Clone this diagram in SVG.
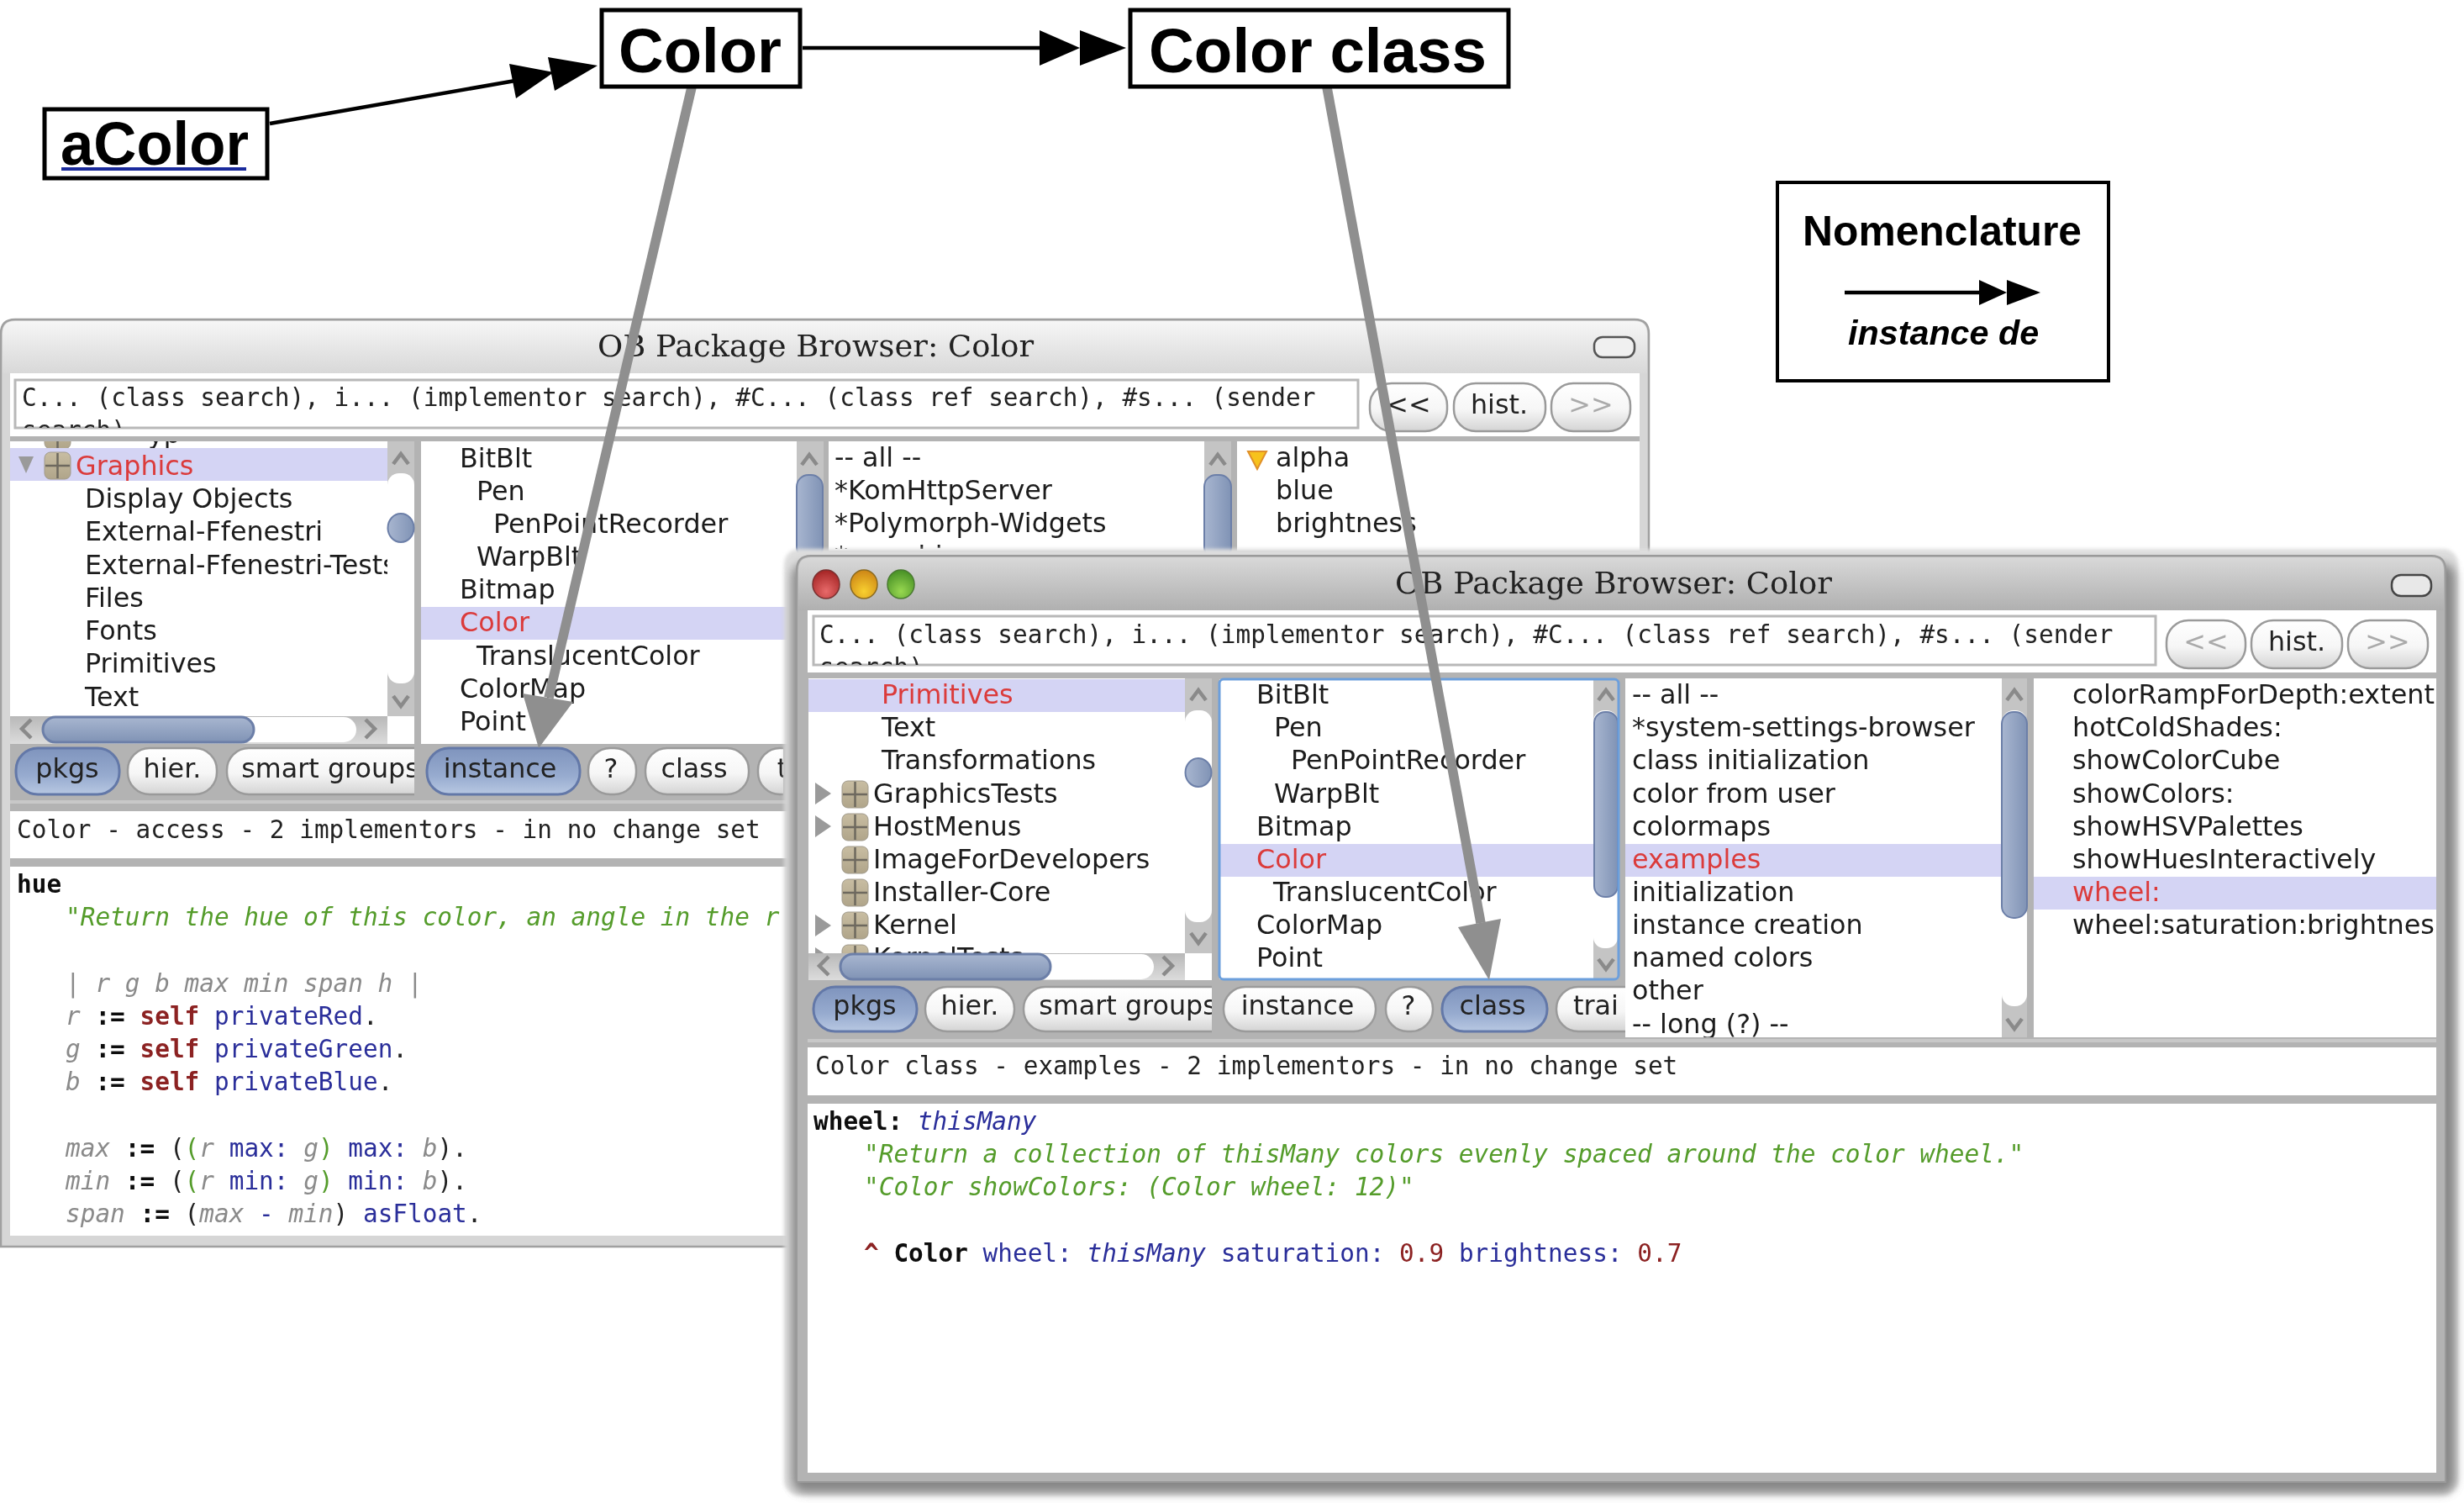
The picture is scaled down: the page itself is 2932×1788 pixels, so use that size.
<svg xmlns="http://www.w3.org/2000/svg" xmlns:xlink="http://www.w3.org/1999/xlink" width="2932" height="1788" viewBox="0 0 2932 1788">
<style>
text{white-space:pre}
.l{font:31.8px "DejaVu Sans",sans-serif;fill:#1c1c1c}
.sel{fill:#db3a3a}
.mono{font:29.4px "DejaVu Sans Mono",monospace;fill:#222}
.b{font-weight:bold;fill:#111}
.grn{fill:#549c2c;font-style:italic}
.v{fill:#8a8a8a;font-style:italic}
.blu{fill:#2b2f9a}
.dr{fill:#8c2222}
.drb{fill:#8c2222;font-weight:bold}
.bk{fill:#111;font-weight:bold}
.gp{fill:#549c2c}
.title{font:35.5px "DejaVu Serif",serif;fill:#222}
.big{font:bold 73px "Liberation Sans",Arial,sans-serif;fill:#000}
.box{fill:#fff;stroke:#000;stroke-width:5}
.band{fill:#d4d4f4}
.white{fill:#fff}
.gray{fill:#b3b3b3}
.track{fill:#fff}
.chev{fill:none;stroke:#8a8a8a;stroke-width:4.5}
.btn{fill:url(#btnG);stroke:#9a9a9a;stroke-width:2.5}
.btnOn{fill:url(#btnOnG);stroke:#6378a8;stroke-width:3}
.btxt{font:31.8px "DejaVu Sans",sans-serif;fill:#222;text-anchor:middle}
.dis{fill:#aaa}
.thumb{fill:url(#thumbG);stroke:#6c7fa8;stroke-width:2}
.hthumb{fill:url(#hthumbG);stroke:#6c7fa8;stroke-width:3}
.search{fill:#fff;stroke:#b8b8b8;stroke-width:3}
.tri{fill:#9a9a9a}
.ln{stroke:#000;stroke-width:4.5;fill:none}
.gl{stroke:#8f8f8f;stroke-width:11.5;fill:none}
</style>
<defs>
<linearGradient id="btnG" x1="0" y1="0" x2="0" y2="1"><stop offset="0" stop-color="#fff"/><stop offset=".55" stop-color="#f6f6f6"/><stop offset="1" stop-color="#d4d4d4"/></linearGradient>
<linearGradient id="btnOnG" x1="0" y1="0" x2="0" y2="1"><stop offset="0" stop-color="#7f94bd"/><stop offset=".6" stop-color="#97abcf"/><stop offset="1" stop-color="#b8c8e2"/></linearGradient>
<linearGradient id="thumbG" x1="0" y1="0" x2="1" y2="0"><stop offset="0" stop-color="#a8b6d0"/><stop offset="1" stop-color="#8093b5"/></linearGradient>
<linearGradient id="hthumbG" x1="0" y1="0" x2="0" y2="1"><stop offset="0" stop-color="#a8b6d0"/><stop offset="1" stop-color="#8093b5"/></linearGradient>
<linearGradient id="tbBack" x1="0" y1="0" x2="0" y2="1"><stop offset="0" stop-color="#f6f6f6"/><stop offset="1" stop-color="#d8d8d8"/></linearGradient>
<linearGradient id="tbFront" x1="0" y1="0" x2="0" y2="1"><stop offset="0" stop-color="#d8d8d8"/><stop offset="1" stop-color="#b0b0b0"/></linearGradient>
<linearGradient id="iconG" x1="0" y1="0" x2="0" y2="1"><stop offset="0" stop-color="#c8bda2"/><stop offset="1" stop-color="#b0a58a"/></linearGradient>
<linearGradient id="hbarG" x1="0" y1="0" x2="0" y2="1"><stop offset="0" stop-color="#b8b8b8"/><stop offset="1" stop-color="#dcdcdc"/></linearGradient>
<radialGradient id="rG" cx=".5" cy=".75" r=".7"><stop offset="0" stop-color="#e86a6a"/><stop offset="1" stop-color="#a82828"/></radialGradient>
<radialGradient id="yG" cx=".5" cy=".75" r=".7"><stop offset="0" stop-color="#f8d030"/><stop offset="1" stop-color="#d08a18"/></radialGradient>
<radialGradient id="gG" cx=".5" cy=".75" r=".7"><stop offset="0" stop-color="#98d850"/><stop offset="1" stop-color="#4c9428"/></radialGradient>
<filter id="sh" filterUnits="userSpaceOnUse" x="900" y="620" width="2032" height="1168"><feGaussianBlur stdDeviation="6"/></filter>
<filter id="sh2" filterUnits="userSpaceOnUse" x="900" y="620" width="2032" height="1168"><feGaussianBlur stdDeviation="2"/></filter>
<filter id="soft" filterUnits="userSpaceOnUse" x="0" y="0" width="2932" height="1788"><feGaussianBlur stdDeviation=".6"/></filter>
<g id="icon"><rect x="0" y="0" width="31" height="32" rx="7" fill="url(#iconG)" stroke="#a09a8c" stroke-width="1"/><path d="M15.5 1V31M1 16H30" stroke="#6e695e" stroke-width="2.5" fill="none"/></g>
<path id="up" class="chev" d="M-9 6L0 -6L9 6"/>
<path id="dn" class="chev" d="M-9 -6L0 6L9 -6"/>
<path id="lt" class="chev" d="M6 -11L-5 0L6 11"/>
<path id="rt" class="chev" d="M-6 -11L5 0L-6 11"/>
<path id="triR" class="tri" d="M0 -13L19 0L0 13Z"/>
<clipPath id="bP1"><rect x="12" y="525" width="449" height="327"/></clipPath>
<clipPath id="bSearch"><rect x="18" y="452" width="1598" height="57"/></clipPath>
<clipPath id="bRow"><rect x="12" y="885" width="481" height="65"/></clipPath>
<clipPath id="bRow2"><rect x="501" y="885" width="431" height="65"/></clipPath>
<clipPath id="bP3"><rect x="986" y="525" width="447" height="128"/></clipPath>
<clipPath id="bCode"><rect x="12" y="1031" width="920" height="440"/></clipPath>
<clipPath id="fP1"><rect x="962" y="807" width="448" height="327"/></clipPath>
<clipPath id="fSearch"><rect x="968" y="733" width="1597" height="58"/></clipPath>
<clipPath id="fRow"><rect x="962" y="1166" width="480" height="68"/></clipPath>
<clipPath id="fRow2"><rect x="1450" y="1166" width="484" height="68"/></clipPath>
<clipPath id="fP3"><rect x="1934" y="807" width="448" height="427"/></clipPath>
<clipPath id="fP4"><rect x="2420" y="807" width="479" height="427"/></clipPath>
</defs>
<rect width="2932" height="1788" fill="#fff"/>

<g id="browser-back" filter="url(#soft)">
<path d="M1 1483V397Q1 380 18 380H1945Q1962 380 1962 397V1483Z" fill="#d6d6d6" stroke="#a0a0a0" stroke-width="2.5"/>
<path d="M3 444V397Q3 382 18 382H1945Q1960 382 1960 397V444Z" fill="url(#tbBack)"/>
<text class="title" x="711" y="424" textLength="519" lengthAdjust="spacingAndGlyphs">OB Package Browser: Color</text>
<rect x="1897" y="401" width="48" height="24" rx="10" fill="#f0f0f0" stroke="#555" stroke-width="2.5"/>
<rect x="12" y="444" width="1939" height="76" class="white"/>
<rect x="12" y="519" width="1939" height="512" class="gray"/>
<rect x="18" y="452" width="1598" height="57" class="search"/>
<g clip-path="url(#bSearch)"><text class="mono" x="26" y="483">C... (class search), i... (implementor search), #C... (class ref search), #s... (sender</text><text class="mono" x="26" y="522">search)</text></g>
<rect x="1630" y="456" width="92" height="57" rx="26" class="btn"/><text class="btxt" x="1676" y="492">&lt;&lt;</text>
<rect x="1730" y="456" width="109" height="57" rx="26" class="btn"/><text class="btxt" x="1784" y="492">hist.</text>
<rect x="1846" y="456" width="94" height="57" rx="26" class="btn"/><text class="btxt dis" x="1893" y="492">&gt;&gt;</text>

<rect x="12" y="525" width="449" height="327" class="white"/>
<g clip-path="url(#bP1)">
<use href="#icon" x="53" y="502"/>
<text class="l" x="176" y="527">yp</text>
<rect x="12" y="533" width="449" height="39" class="band"/>
<path class="tri" d="M22 543H40L31 563Z"/>
<use href="#icon" x="53" y="538"/>
<text class="l sel" x="90" y="565">Graphics</text>
<text class="l" x="101" y="604">Display Objects</text>
<text class="l" x="101" y="643">External-Ffenestri</text>
<text class="l" x="101" y="683">External-Ffenestri-Tests</text>
<text class="l" x="101" y="722">Files</text>
<text class="l" x="101" y="761">Fonts</text>
<text class="l" x="101" y="800">Primitives</text>
<text class="l" x="101" y="840">Text</text>
</g>
<rect x="461" y="525" width="32" height="327" fill="#c4c4c4"/>
<rect x="461" y="563" width="32" height="250" rx="14" class="track"/>
<use href="#up" x="477" y="546"/><use href="#dn" x="477" y="834"/>
<ellipse cx="477" cy="628" rx="15.5" ry="17" class="thumb"/>
<rect x="461" y="852" width="32" height="33" class="white"/>
<rect x="12" y="852" width="449" height="33" fill="url(#hbarG)"/>
<rect x="51" y="853" width="373" height="30" rx="15" class="track"/>
<rect x="51" y="853" width="251" height="30" rx="15" class="hthumb"/>
<use href="#lt" x="31" y="867"/><use href="#rt" x="441" y="867"/>

<rect x="501" y="525" width="447" height="360" class="white"/>
<rect x="501" y="722" width="447" height="39" class="band"/>
<text class="l" x="547" y="556">BitBlt</text>
<text class="l" x="567" y="595">Pen</text>
<text class="l" x="587" y="634">PenPointRecorder</text>
<text class="l" x="567" y="673">WarpBlt</text>
<text class="l" x="547" y="712">Bitmap</text>
<text class="l sel" x="547" y="751">Color</text>
<text class="l" x="567" y="791">TranslucentColor</text>
<text class="l" x="547" y="830">ColorMap</text>
<text class="l" x="547" y="869">Point</text>

<rect x="948" y="525" width="32" height="130" fill="#c4c4c4"/>
<rect x="948" y="565" width="31" height="100" rx="14" class="thumb"/>
<use href="#up" x="963" y="547"/>
<rect x="986" y="525" width="447" height="130" class="white"/>
<g clip-path="url(#bP3)">
<text class="l" x="993" y="555">-- all --</text>
<text class="l" x="993" y="594">*KomHttpServer</text>
<text class="l" x="993" y="633">*Polymorph-Widgets</text>
<text class="l" x="993" y="672">*morphic</text>
</g>
<rect x="1433" y="525" width="32" height="130" fill="#c4c4c4"/>
<rect x="1433" y="565" width="32" height="100" rx="14" class="thumb"/>
<use href="#up" x="1449" y="547"/>
<rect x="1472" y="525" width="479" height="130" class="white"/>
<path d="M1485 537H1507L1496 558Z" fill="#f7c21e" stroke="#e0902a" stroke-width="2"/>
<text class="l" x="1518" y="555">alpha</text>
<text class="l" x="1518" y="594">blue</text>
<text class="l" x="1518" y="633">brightness</text>

<g clip-path="url(#bRow)">
<rect x="19" y="890" width="123" height="55" rx="26" class="btnOn"/><text class="btxt" x="80" y="925">pkgs</text>
<rect x="152" y="890" width="106" height="55" rx="26" class="btn"/><text class="btxt" x="205" y="925">hier.</text>
<rect x="270" y="890" width="260" height="55" rx="26" class="btn"/><text class="btxt" x="393" y="925">smart groups</text>
</g>
<g clip-path="url(#bRow2)">
<rect x="508" y="890" width="182" height="55" rx="26" class="btnOn"/><text class="btxt" x="595" y="925">instance</text>
<rect x="700" y="890" width="57" height="55" rx="26" class="btn"/><text class="btxt" x="727" y="925">?</text>
<rect x="768" y="890" width="123" height="55" rx="26" class="btn"/><text class="btxt" x="826" y="925">class</text>
<rect x="902" y="890" width="100" height="55" rx="26" class="btn"/><text class="btxt" x="931" y="925">t</text>
</g>
<rect x="12" y="952" width="930" height="4" fill="#c8c8c8"/>
<rect x="12" y="965" width="930" height="56" class="white"/>
<text class="mono" x="20" y="997">Color - access - 2 implementors - in no change set</text>
<rect x="12" y="1031" width="930" height="439" class="white"/>
<g clip-path="url(#bCode)">
<text class="mono" y="1062" x="20"><tspan class="b">hue</tspan></text>
<text class="mono" y="1101" x="78"><tspan class="grn">"Return the hue of this color, an angle in the r</tspan></text>
<text class="mono" y="1180" x="78"><tspan class="v">| r g b max min span h |</tspan></text>
<text class="mono" y="1219" x="78"><tspan class="v">r</tspan> <tspan class="bk">:=</tspan> <tspan class="drb">self</tspan> <tspan class="blu">privateRed</tspan>.</text>
<text class="mono" y="1258" x="78"><tspan class="v">g</tspan> <tspan class="bk">:=</tspan> <tspan class="drb">self</tspan> <tspan class="blu">privateGreen</tspan>.</text>
<text class="mono" y="1297" x="78"><tspan class="v">b</tspan> <tspan class="bk">:=</tspan> <tspan class="drb">self</tspan> <tspan class="blu">privateBlue</tspan>.</text>
<text class="mono" y="1376" x="78"><tspan class="v">max</tspan> <tspan class="bk">:=</tspan> (<tspan class="gp">(</tspan><tspan class="v">r</tspan> <tspan class="blu">max:</tspan> <tspan class="v">g</tspan><tspan class="gp">)</tspan> <tspan class="blu">max:</tspan> <tspan class="v">b</tspan>).</text>
<text class="mono" y="1415" x="78"><tspan class="v">min</tspan> <tspan class="bk">:=</tspan> (<tspan class="gp">(</tspan><tspan class="v">r</tspan> <tspan class="blu">min:</tspan> <tspan class="v">g</tspan><tspan class="gp">)</tspan> <tspan class="blu">min:</tspan> <tspan class="v">b</tspan>).</text>
<text class="mono" y="1454" x="78"><tspan class="v">span</tspan> <tspan class="bk">:=</tspan> (<tspan class="v">max</tspan> <tspan class="blu">-</tspan> <tspan class="v">min</tspan>) <tspan class="blu">asFloat</tspan>.</text>
</g>
</g>

<g id="browser-front" filter="url(#soft)">
<rect x="933" y="653" width="1992" height="1126" rx="18" fill="#dedede" filter="url(#sh2)"/>
<rect x="942" y="670" width="1980" height="1106" rx="16" fill="#6a6a6a" opacity=".75" filter="url(#sh)"/>
<path d="M948 1763V678Q948 661 965 661H2893Q2910 661 2910 678V1763Z" fill="#b3b3b3" stroke="#9a9a9a" stroke-width="2"/>
<path d="M950 726V678Q950 663 965 663H2893Q2908 663 2908 678V726Z" fill="url(#tbFront)"/>
<ellipse cx="983" cy="695" rx="16" ry="17" fill="url(#rG)" stroke="#7a3030" stroke-width="1.5"/>
<ellipse cx="1028" cy="695" rx="16" ry="17" fill="url(#yG)" stroke="#8a6a20" stroke-width="1.5"/>
<ellipse cx="1072" cy="695" rx="16" ry="17" fill="url(#gG)" stroke="#4a7a30" stroke-width="1.5"/>
<text class="title" x="1660" y="706" textLength="520" lengthAdjust="spacingAndGlyphs">OB Package Browser: Color</text>
<rect x="2846" y="684" width="47" height="25" rx="11" fill="#e8e8e8" stroke="#444" stroke-width="2.5"/>
<rect x="961" y="726" width="1938" height="74" class="white"/>
<rect x="968" y="733" width="1597" height="58" class="search"/>
<g clip-path="url(#fSearch)"><text class="mono" x="975" y="765">C... (class search), i... (implementor search), #C... (class ref search), #s... (sender</text><text class="mono" x="975" y="804">search)</text></g>
<rect x="2578" y="738" width="94" height="57" rx="26" class="btn"/><text class="btxt dis" x="2625" y="774">&lt;&lt;</text>
<rect x="2679" y="738" width="108" height="57" rx="26" class="btn"/><text class="btxt" x="2733" y="774">hist.</text>
<rect x="2794" y="738" width="95" height="57" rx="26" class="btn"/><text class="btxt dis" x="2841" y="774">&gt;&gt;</text>

<rect x="962" y="807" width="448" height="327" class="white"/>
<g clip-path="url(#fP1)">
<rect x="962" y="808" width="448" height="39" class="band"/>
<text class="l sel" x="1049" y="837">Primitives</text>
<text class="l" x="1049" y="876">Text</text>
<text class="l" x="1049" y="915">Transformations</text>
<use href="#triR" x="970" y="944"/><use href="#icon" x="1002" y="929"/><text class="l" x="1039" y="955">GraphicsTests</text>
<use href="#triR" x="970" y="983"/><use href="#icon" x="1002" y="968"/><text class="l" x="1039" y="994">HostMenus</text>
<use href="#icon" x="1002" y="1007"/><text class="l" x="1039" y="1033">ImageForDevelopers</text>
<use href="#icon" x="1002" y="1046"/><text class="l" x="1039" y="1072">Installer-Core</text>
<use href="#triR" x="970" y="1101"/><use href="#icon" x="1002" y="1085"/><text class="l" x="1039" y="1111">Kernel</text>
<use href="#triR" x="970" y="1140"/><use href="#icon" x="1002" y="1124"/><text class="l" x="1039" y="1150">KernelTests</text>
</g>
<rect x="1410" y="807" width="32" height="327" fill="#c4c4c4"/>
<rect x="1410" y="845" width="32" height="252" rx="14" class="track"/>
<use href="#up" x="1426" y="827"/><use href="#dn" x="1426" y="1116"/>
<ellipse cx="1426" cy="919" rx="15.5" ry="17" class="thumb"/>
<rect x="1410" y="1134" width="32" height="32" class="white"/>
<rect x="962" y="1134" width="448" height="32" fill="url(#hbarG)"/>
<rect x="1000" y="1135" width="373" height="30" rx="15" class="track"/>
<rect x="1000" y="1135" width="250" height="30" rx="15" class="hthumb"/>
<use href="#lt" x="980" y="1149"/><use href="#rt" x="1390" y="1149"/>

<rect x="1451" y="808" width="474" height="357" class="white"/>
<rect x="1452" y="1004" width="444" height="39" class="band"/>
<text class="l" x="1495" y="837">BitBlt</text>
<text class="l" x="1516" y="876">Pen</text>
<text class="l" x="1536" y="915">PenPointRecorder</text>
<text class="l" x="1516" y="955">WarpBlt</text>
<text class="l" x="1495" y="994">Bitmap</text>
<text class="l sel" x="1495" y="1033">Color</text>
<text class="l" x="1515" y="1072">TranslucentColor</text>
<text class="l" x="1495" y="1111">ColorMap</text>
<text class="l" x="1495" y="1150">Point</text>
<rect x="1896" y="808" width="29" height="357" fill="#c4c4c4"/>
<rect x="1896" y="845" width="29" height="283" rx="13" class="track"/>
<rect x="1897" y="847" width="28" height="220" rx="13" class="thumb"/>
<use href="#up" x="1911" y="827"/><use href="#dn" x="1911" y="1147"/>
<rect x="1451" y="808" width="475" height="357" rx="5" fill="none" stroke="#6c9fdc" stroke-width="3"/>

<g clip-path="url(#fRow)">
<rect x="968" y="1174" width="123" height="53" rx="26" class="btnOn"/><text class="btxt" x="1029" y="1207">pkgs</text>
<rect x="1101" y="1174" width="106" height="53" rx="26" class="btn"/><text class="btxt" x="1154" y="1207">hier.</text>
<rect x="1218" y="1174" width="260" height="53" rx="26" class="btn"/><text class="btxt" x="1342" y="1207">smart groups</text>
</g>
<g clip-path="url(#fRow2)">
<rect x="1456" y="1174" width="181" height="53" rx="26" class="btn"/><text class="btxt" x="1544" y="1207">instance</text>
<rect x="1649" y="1174" width="56" height="53" rx="26" class="btn"/><text class="btxt" x="1676" y="1207">?</text>
<rect x="1716" y="1174" width="125" height="53" rx="26" class="btnOn"/><text class="btxt" x="1776" y="1207">class</text>
<rect x="1852" y="1174" width="110" height="53" rx="26" class="btn"/><text class="btxt" x="1899" y="1207">trai</text>
</g>

<rect x="1934" y="807" width="448" height="427" class="white"/>
<rect x="1934" y="1004" width="448" height="39" class="band"/>
<g clip-path="url(#fP3)">
<text class="l" x="1942" y="837">-- all --</text>
<text class="l" x="1942" y="876">*system-settings-browser</text>
<text class="l" x="1942" y="915">class initialization</text>
<text class="l" x="1942" y="955">color from user</text>
<text class="l" x="1942" y="994">colormaps</text>
<text class="l sel" x="1942" y="1033">examples</text>
<text class="l" x="1942" y="1072">initialization</text>
<text class="l" x="1942" y="1111">instance creation</text>
<text class="l" x="1942" y="1150">named colors</text>
<text class="l" x="1942" y="1189">other</text>
<text class="l" x="1942" y="1229">-- long (?) --</text>
</g>
<rect x="2382" y="807" width="30" height="427" fill="#c4c4c4"/>
<rect x="2382" y="845" width="30" height="352" rx="14" class="track"/>
<rect x="2382" y="847" width="30" height="245" rx="14" class="thumb"/>
<use href="#up" x="2397" y="827"/><use href="#dn" x="2397" y="1218"/>

<rect x="2420" y="807" width="479" height="427" class="white"/>
<rect x="2420" y="1043" width="479" height="39" class="band"/>
<g clip-path="url(#fP4)">
<text class="l" x="2466" y="837" textLength="431" lengthAdjust="spacingAndGlyphs">colorRampForDepth:extent</text>
<text class="l" x="2466" y="876">hotColdShades:</text>
<text class="l" x="2466" y="915">showColorCube</text>
<text class="l" x="2466" y="955">showColors:</text>
<text class="l" x="2466" y="994">showHSVPalettes</text>
<text class="l" x="2466" y="1033">showHuesInteractively</text>
<text class="l sel" x="2466" y="1072">wheel:</text>
<text class="l" x="2466" y="1111" textLength="431" lengthAdjust="spacingAndGlyphs">wheel:saturation:brightnes</text>
</g>
<rect x="961" y="1236" width="1938" height="4" fill="#c8c8c8"/>
<rect x="961" y="1246" width="1938" height="57" class="white"/>
<text class="mono" x="970" y="1278">Color class - examples - 2 implementors - in no change set</text>
<rect x="961" y="1313" width="1938" height="439" class="white"/>
<text class="mono" y="1344" x="968"><tspan class="b">wheel:</tspan> <tspan class="blu" font-style="italic">thisMany</tspan></text>
<text class="mono" y="1383" x="1028"><tspan class="grn">"Return a collection of thisMany colors evenly spaced around the color wheel."</tspan></text>
<text class="mono" y="1422" x="1028"><tspan class="grn">"Color showColors: (Color wheel: 12)"</tspan></text>
<text class="mono" y="1501" x="1028"><tspan class="drb">^</tspan> <tspan class="b">Color</tspan> <tspan class="blu">wheel:</tspan> <tspan class="blu" font-style="italic">thisMany</tspan> <tspan class="blu">saturation:</tspan> <tspan class="dr">0.9</tspan> <tspan class="blu">brightness:</tspan> <tspan class="dr">0.7</tspan></text>
</g>

<g id="connectors">
<path class="gl" d="M823 104L653 830"/>
<polygon points="622,825 682,835 641,890" fill="#8f8f8f"/>
<path class="gl" d="M1579 104L1762 1098"/>
<polygon points="1735,1103 1786,1093 1772,1166" fill="#8f8f8f"/>
<path class="ln" d="M321 147L613 96"/>
<polygon points="606,76 614,117 659,86" fill="#000"/>
<polygon points="652,68 660,108 711,78" fill="#000"/>
<path class="ln" d="M955 57H1237"/>
<polygon points="1237,36 1237,78 1285,57" fill="#000"/>
<polygon points="1285,36 1285,78 1340,57" fill="#000"/>
</g>

<g id="aColor">
<rect class="box" x="53" y="130" width="265" height="82"/>
<text class="big" x="72" y="196" textLength="224" lengthAdjust="spacingAndGlyphs" style="font-size:72px">aColor</text>
<rect x="73" y="199" width="220" height="4" fill="#1a2a9c"/>
</g>
<g id="Color">
<rect class="box" x="716" y="12" width="236" height="91"/>
<text class="big" x="736" y="86" textLength="194" lengthAdjust="spacingAndGlyphs" style="font-size:75px">Color</text>
</g>
<g id="ColorClass">
<rect class="box" x="1345" y="12" width="450" height="91"/>
<text class="big" x="1367" y="86" textLength="402" lengthAdjust="spacingAndGlyphs" style="font-size:75px">Color class</text>
</g>
<g id="nomenclature">
<rect x="2115" y="217" width="394" height="236" fill="#fff" stroke="#000" stroke-width="4"/>
<text x="2145" y="292" style="font:bold 49.8px 'Liberation Sans',Arial,sans-serif">Nomenclature</text>
<path class="ln" d="M2195 348H2355"/>
<polygon points="2355,333 2355,363 2388,348" fill="#000"/>
<polygon points="2388,333 2388,363 2428,348" fill="#000"/>
<text x="2199" y="410" style="font:italic bold 41.3px 'Liberation Sans',Arial,sans-serif">instance de</text>
</g>
</svg>
